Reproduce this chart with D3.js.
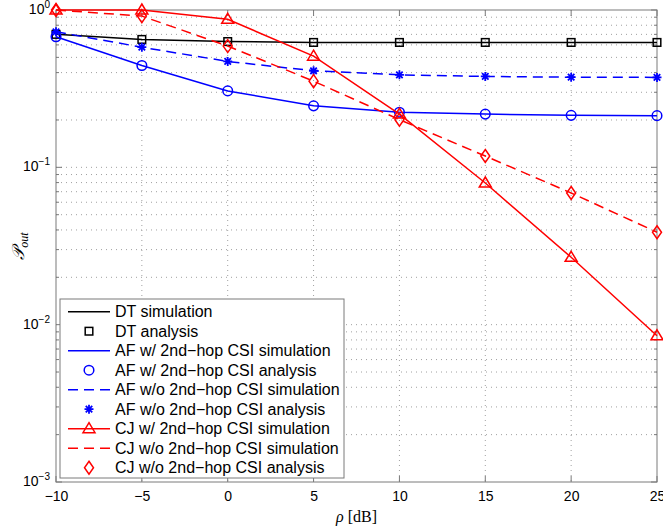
<!DOCTYPE html>
<html><head><meta charset="utf-8">
<script src="https://cdn.jsdelivr.net/npm/d3@7"></script>
<style>body{margin:0;background:#fff}svg{display:block}</style>
</head><body>
<svg id="c" width="663" height="529"></svg>
<script>
const rho = [-10, -5, 0, 5, 10, 15, 20, 25];
const dtSim   = [0.70, 0.65, 0.63, 0.622, 0.622, 0.622, 0.622, 0.622];
const dtAna   = [0.70, 0.65, 0.63, 0.622, 0.622, 0.622, 0.622, 0.622];
const afWSim  = [0.676, 0.444, 0.306, 0.246, 0.224, 0.218, 0.214, 0.213];
const afWAna  = [0.676, 0.444, 0.306, 0.246, 0.224, 0.218, 0.214, 0.213];
const afWoSim = [0.727, 0.58, 0.471, 0.411, 0.387, 0.378, 0.374, 0.373];
const afWoAna = [0.727, 0.58, 0.471, 0.411, 0.387, 0.378, 0.374, 0.373];
const cjWSim  = [1.0, 1.0, 0.873, 0.509, 0.218, 0.0795, 0.0268, 0.0085];
const cjWoSim = [1.0, 0.915, 0.59, 0.353, 0.201, 0.118, 0.0687, 0.0387];
const cjWoAna = [1.0, 0.915, 0.59, 0.353, 0.201, 0.118, 0.0687, 0.0387];
const xTicks = [-10, -5, 0, 5, 10, 15, 20, 25];
const yTickExps = [0, -1, -2, -3];
const legendLabels = ["DT simulation", "DT analysis", "AF w/ 2nd\u2212hop CSI simulation", "AF w/ 2nd\u2212hop CSI analysis",
  "AF w/o 2nd\u2212hop CSI simulation", "AF w/o 2nd\u2212hop CSI analysis", "CJ w/ 2nd\u2212hop CSI simulation",
  "CJ w/o 2nd\u2212hop CSI simulation", "CJ w/o 2nd\u2212hop CSI analysis"];

const L = 56, R = 657, T = 10, B = 482;
const x = d3.scaleLinear().domain([-10, 25]).range([L, R]);
const y = d3.scaleLog().domain([1e-3, 1]).range([B, T]);
const svg = d3.select("#c");
const axisCol = "#7a7a7a";

const minorVals = [];
for (let e = -3; e < 0; e++) for (let k = 2; k <= 9; k++) minorVals.push(k * Math.pow(10, e));
const majorVals = yTickExps.map(e => Math.pow(10, e));

// grid
const g = svg.append("g");
g.selectAll(".gy").data(minorVals.concat(majorVals.slice(1, 3))).join("line")
  .attr("x1", L).attr("x2", R).attr("y1", d => y(d)).attr("y2", d => y(d))
  .attr("stroke", "#a0a0a0").attr("stroke-width", 1).attr("stroke-dasharray", "1,4");
g.selectAll(".gx").data(xTicks.slice(1, -1)).join("line")
  .attr("x1", d => x(d)).attr("x2", d => x(d)).attr("y1", T).attr("y2", B)
  .attr("stroke", "#a0a0a0").attr("stroke-width", 1).attr("stroke-dasharray", "1,4");

// axes via d3
const xAxisB = d3.axisBottom(x).tickValues(xTicks).tickSize(0).tickPadding(9)
  .tickFormat(d => d < 0 ? "\u2212" + Math.abs(d) : d);
const gxB = svg.append("g").attr("transform", `translate(0,${B})`).call(xAxisB);
gxB.select(".domain").remove();
gxB.selectAll("text").attr("font-family", "Liberation Sans, Arial, sans-serif").attr("font-size", 14).attr("fill", "#000");

const yAxisL = d3.axisLeft(y).tickValues(majorVals).tickSize(0).tickPadding(6).tickFormat("");
const gyL = svg.append("g").attr("transform", `translate(${L},0)`).call(yAxisL);
gyL.select(".domain").remove();
gyL.selectAll(".tick").each(function(d) {
  const t = d3.select(this).append("text").attr("x", -6).attr("dy", "0.35em").attr("text-anchor", "end")
    .attr("font-family", "Liberation Sans, Arial, sans-serif").attr("fill", "#000");
  const e = Math.round(Math.log10(d));
  t.append("tspan").attr("font-size", 14).text("10");
  t.append("tspan").attr("font-size", 10).attr("dy", "-0.6em").text(e === 0 ? "0" : "\u2212" + Math.abs(e));
});

// tick marks
const tk = svg.append("g").attr("stroke", axisCol).attr("stroke-width", 1);
xTicks.forEach(v => {
  tk.append("line").attr("x1", x(v)).attr("x2", x(v)).attr("y1", B).attr("y2", B - 6);
  tk.append("line").attr("x1", x(v)).attr("x2", x(v)).attr("y1", T).attr("y2", T + 6);
});
majorVals.forEach(v => {
  tk.append("line").attr("x1", L).attr("x2", L + 6).attr("y1", y(v)).attr("y2", y(v));
  tk.append("line").attr("x1", R).attr("x2", R - 6).attr("y1", y(v)).attr("y2", y(v));
});
minorVals.forEach(v => {
  tk.append("line").attr("x1", L).attr("x2", L + 3).attr("y1", y(v)).attr("y2", y(v));
  tk.append("line").attr("x1", R).attr("x2", R - 3).attr("y1", y(v)).attr("y2", y(v));
});
svg.append("rect").attr("x", L).attr("y", T).attr("width", R - L).attr("height", B - T)
  .attr("fill", "none").attr("stroke", axisCol).attr("stroke-width", 1);

// labels
svg.append("text").attr("x", (L + R) / 2).attr("y", 522).attr("text-anchor", "middle")
  .attr("font-family", "Liberation Serif, Times New Roman, serif").attr("font-size", 16)
  .html('<tspan font-style="italic">\u03C1</tspan> [dB]');
const yl = svg.append("text").attr("transform", `translate(24,${(T + B) / 2}) rotate(-90)`).attr("text-anchor", "middle")
  .attr("font-family", "Liberation Serif, DejaVu Serif, serif").attr("font-size", 17);
yl.append("tspan").attr("font-style", "italic").text("\u{1D4AB}");
yl.append("tspan").attr("font-style", "italic").attr("font-size", 12).attr("dy", "0.35em").text("out");

// markers
function marker(sel, type, cx, cy, color) {
  if (type === "square") sel.append("rect").attr("x", cx - 3.8).attr("y", cy - 3.8).attr("width", 7.6).attr("height", 7.6)
    .attr("fill", "none").attr("stroke", color).attr("stroke-width", 1.5);
  else if (type === "circle") sel.append("circle").attr("cx", cx).attr("cy", cy).attr("r", 4.8)
    .attr("fill", "none").attr("stroke", color).attr("stroke-width", 1.5);
  else if (type === "triangle") sel.append("path").attr("d", `M${cx},${cy - 6}L${cx + 6},${cy + 4}L${cx - 6},${cy + 4}Z`)
    .attr("fill", "none").attr("stroke", color).attr("stroke-width", 1.5);
  else if (type === "diamond") sel.append("path").attr("d", `M${cx},${cy - 6.5}L${cx + 4.5},${cy}L${cx},${cy + 6.5}L${cx - 4.5},${cy}Z`)
    .attr("fill", "none").attr("stroke", color).attr("stroke-width", 1.5);
  else if (type === "star") {
    const r = 4.5, d = r * 0.72;
    sel.append("path").attr("d", `M${cx - r},${cy}L${cx + r},${cy}M${cx},${cy - r}L${cx},${cy + r}M${cx - d},${cy - d}L${cx + d},${cy + d}M${cx - d},${cy + d}L${cx + d},${cy - d}`)
      .attr("fill", "none").attr("stroke", color).attr("stroke-width", 1.8);
  }
}

const line = d3.line().x((d, i) => x(rho[i])).y(d => y(d));
const series = [
  {data: dtSim, color: "#000", dash: null, lineOn: true, m: null},
  {data: dtAna, color: "#000", dash: null, lineOn: false, m: "square"},
  {data: afWSim, color: "#0000ff", dash: null, lineOn: true, m: null},
  {data: afWAna, color: "#0000ff", dash: null, lineOn: false, m: "circle"},
  {data: afWoSim, color: "#0000ff", dash: "10,6", lineOn: true, m: null},
  {data: afWoAna, color: "#0000ff", dash: null, lineOn: false, m: "star"},
  {data: cjWSim, color: "#ff0000", dash: null, lineOn: true, m: "triangle"},
  {data: cjWoSim, color: "#ff0000", dash: "10,6", lineOn: true, m: null},
  {data: cjWoAna, color: "#ff0000", dash: null, lineOn: false, m: "diamond"},
];
const plot = svg.append("g");
series.forEach(s => {
  if (s.lineOn) plot.append("path").attr("d", line(s.data)).attr("fill", "none").attr("stroke", s.color)
    .attr("stroke-width", 1.5).attr("stroke-dasharray", s.dash);
  if (s.m) s.data.forEach((v, i) => marker(plot, s.m, x(rho[i]), y(v), s.color));
});

// legend
const lg = svg.append("g");
const lx = 60, ly = 299, lw = 284, lh = 179;
lg.append("rect").attr("x", lx).attr("y", ly).attr("width", lw).attr("height", lh)
  .attr("fill", "#fff").attr("stroke", axisCol).attr("stroke-width", 1);
series.forEach((s, i) => {
  const cy = 311.7 + i * 19.5;
  if (s.lineOn) lg.append("line").attr("x1", 68).attr("x2", 110).attr("y1", cy).attr("y2", cy)
    .attr("stroke", s.color).attr("stroke-width", 1.5).attr("stroke-dasharray", s.dash);
  if (s.m) marker(lg, s.m, 89, cy, s.color);
  lg.append("text").attr("x", 115).attr("y", cy).attr("dy", "0.35em")
    .attr("font-family", "Liberation Sans, Arial, sans-serif").attr("font-size", 16).attr("fill", "#000")
    .text(legendLabels[i]);
});
</script>
</body></html>
